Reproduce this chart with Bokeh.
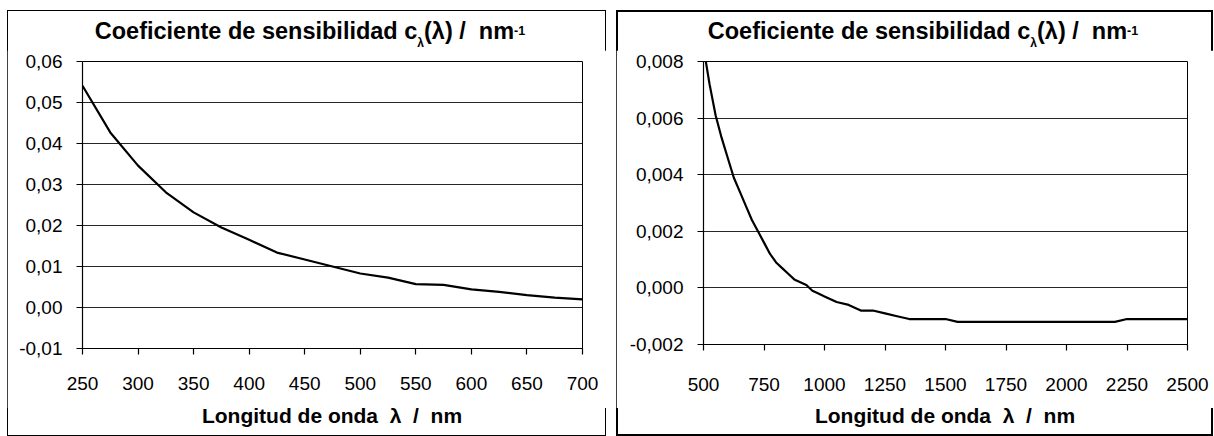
from bokeh.plotting import figure
from bokeh.models import FixedTicker, CustomJSTickFormatter, Range1d, Spacer, Div
from bokeh.layouts import row, column
from bokeh.embed import file_html
from bokeh.resources import INLINE

# ---------------- data ----------------
wl_vis = [250, 275, 300, 325, 350, 375, 400, 425, 450, 475, 500, 525, 550, 575, 600, 625, 650, 675, 700]
c_vis = [0.0541, 0.0427, 0.0346, 0.0281, 0.0232, 0.0195, 0.0165, 0.0134, 0.0117, 0.0100, 0.0083,
         0.0073, 0.0057, 0.0055, 0.0044, 0.0038, 0.0030, 0.0024, 0.0020]

wl_ir = [500, 525, 550, 575, 600, 625, 650, 675, 700, 725, 750, 775, 800, 825, 850, 875, 900, 925,
         950, 975, 1000, 1050, 1100, 1150, 1200, 1250, 1300, 1350, 1400, 1500, 1550, 2200, 2250, 2500]
c_ir = [0.0085, 0.0072, 0.0061, 0.0053, 0.0046, 0.0039, 0.0034, 0.0029, 0.0024, 0.0020, 0.0016,
        0.0012, 0.0009, 0.0007, 0.0005, 0.0003, 0.0002, 0.0001, -0.0001, -0.0002, -0.0003, -0.0005,
        -0.0006, -0.0008, -0.0008, -0.0009, -0.0010, -0.0011, -0.0011, -0.0011, -0.0012, -0.0012,
        -0.0011, -0.0011]

x_ticks_vis = [250, 300, 350, 400, 450, 500, 550, 600, 650, 700]
y_ticks_vis = [-0.01, 0.0, 0.01, 0.02, 0.03, 0.04, 0.05, 0.06]
x_ticks_ir = [500, 750, 1000, 1250, 1500, 1750, 2000, 2250, 2500]
y_ticks_ir = [-0.002, 0.0, 0.002, 0.004, 0.006, 0.008]

title_main = "Coeficiente de sensibilidad c"
title_sub = "λ"
title_mid = "(λ) /&nbsp; nm"
title_sup = "-1"
x_label = "Longitud de onda &nbsp;λ &nbsp;/ &nbsp;nm"

FONT = "'Liberation Sans', Arial, sans-serif"


def title_div(width, pad_left):
    html = (f'<div style="width:{width}px; box-sizing:border-box; text-align:center; '
            f'padding-left:{pad_left}px; padding-top:10px; font-family:{FONT}; font-weight:bold; '
            f'font-size:23.5px; line-height:22px; color:black; white-space:nowrap;">'
            f'{title_main}<span style="font-size:12px; position:relative; top:8px;">{title_sub}</span>'
            f'{title_mid}<span style="font-size:12.5px; position:relative; top:-4px;">{title_sup}</span>'
            f'</div>')
    return Div(text=html, width=width, height=40, margin=0)


def xlabel_div(width, pad_left):
    html = (f'<div style="width:{width}px; box-sizing:border-box; text-align:center; '
            f'padding-left:{pad_left}px; font-family:{FONT}; font-weight:bold; '
            f'font-size:21px; line-height:16px; color:black; white-space:nowrap;">'
            f'{x_label}</div>')
    return Div(text=html, width=width, height=28, margin=0)


def make_plot(x, y, xr, yr, xt, yt, dec, width, height, mbl, mbr, mbt, mbb, x_standoff):
    p = figure(width=width, height=height, x_range=Range1d(*xr), y_range=Range1d(*yr),
               output_backend="svg", toolbar_location=None,
               min_border_left=mbl, min_border_right=mbr, min_border_top=mbt,
               min_border_bottom=mbb, margin=0)
    p.background_fill_color = "white"
    p.border_fill_color = "white"
    p.outline_line_color = "black"
    p.outline_line_width = 1
    p.outline_line_alpha = 1

    p.line(x, y, line_color="black", line_width=2.2)

    p.xgrid.visible = False
    p.ygrid.ticker = FixedTicker(ticks=yt)
    p.ygrid.grid_line_color = "black"
    p.ygrid.grid_line_alpha = 0.85
    p.ygrid.grid_line_width = 1.2

    for ax in (p.xaxis[0], p.yaxis[0]):
        ax.axis_line_color = "black"
        ax.axis_line_width = 1.2
        ax.major_tick_line_color = "black"
        ax.major_tick_line_width = 1.2
        ax.major_tick_in = 0
        ax.major_tick_out = 6
        ax.minor_tick_line_color = None
        ax.major_label_text_font = "Liberation Sans"
        ax.major_label_text_font_size = "19px"
        ax.major_label_text_color = "black"

    p.xaxis.ticker = FixedTicker(ticks=xt)
    p.yaxis.ticker = FixedTicker(ticks=yt)
    p.yaxis.formatter = CustomJSTickFormatter(code=f"return tick.toFixed({dec}).replace('.', ',');")
    p.xaxis.major_label_standoff = x_standoff
    p.yaxis.major_label_standoff = 14
    return p


W1, W2 = 599, 597
FIG_H = 358

p1 = make_plot(wl_vis, c_vis, (250, 700), (-0.01, 0.06), x_ticks_vis, y_ticks_vis, 2,
               W1, FIG_H, 75, 24, 11, 60, 22)
p2 = make_plot(wl_ir, c_ir, (500, 2500), (-0.002, 0.008), x_ticks_ir, y_ticks_ir, 3,
               W2, FIG_H, 87, 26, 11, 64, 27)

panel1 = column(title_div(W1, 7), p1, xlabel_div(W1, 51), spacing=0, margin=0,
                styles={"outline": "1px solid black", "outline-offset": "-1px"})
panel2 = column(title_div(W2, 17), p2, xlabel_div(W2, 61), spacing=0, margin=0,
                styles={"outline": "2px solid black", "outline-offset": "-2px"})

layout = column(Spacer(height=10, width=10, margin=0),
                row(Spacer(width=7, height=10, margin=0), panel1,
                    Spacer(width=10, height=10, margin=0), panel2, spacing=0, margin=0),
                spacing=0, margin=0)
open("out.html", "w").write(file_html(layout, INLINE))
